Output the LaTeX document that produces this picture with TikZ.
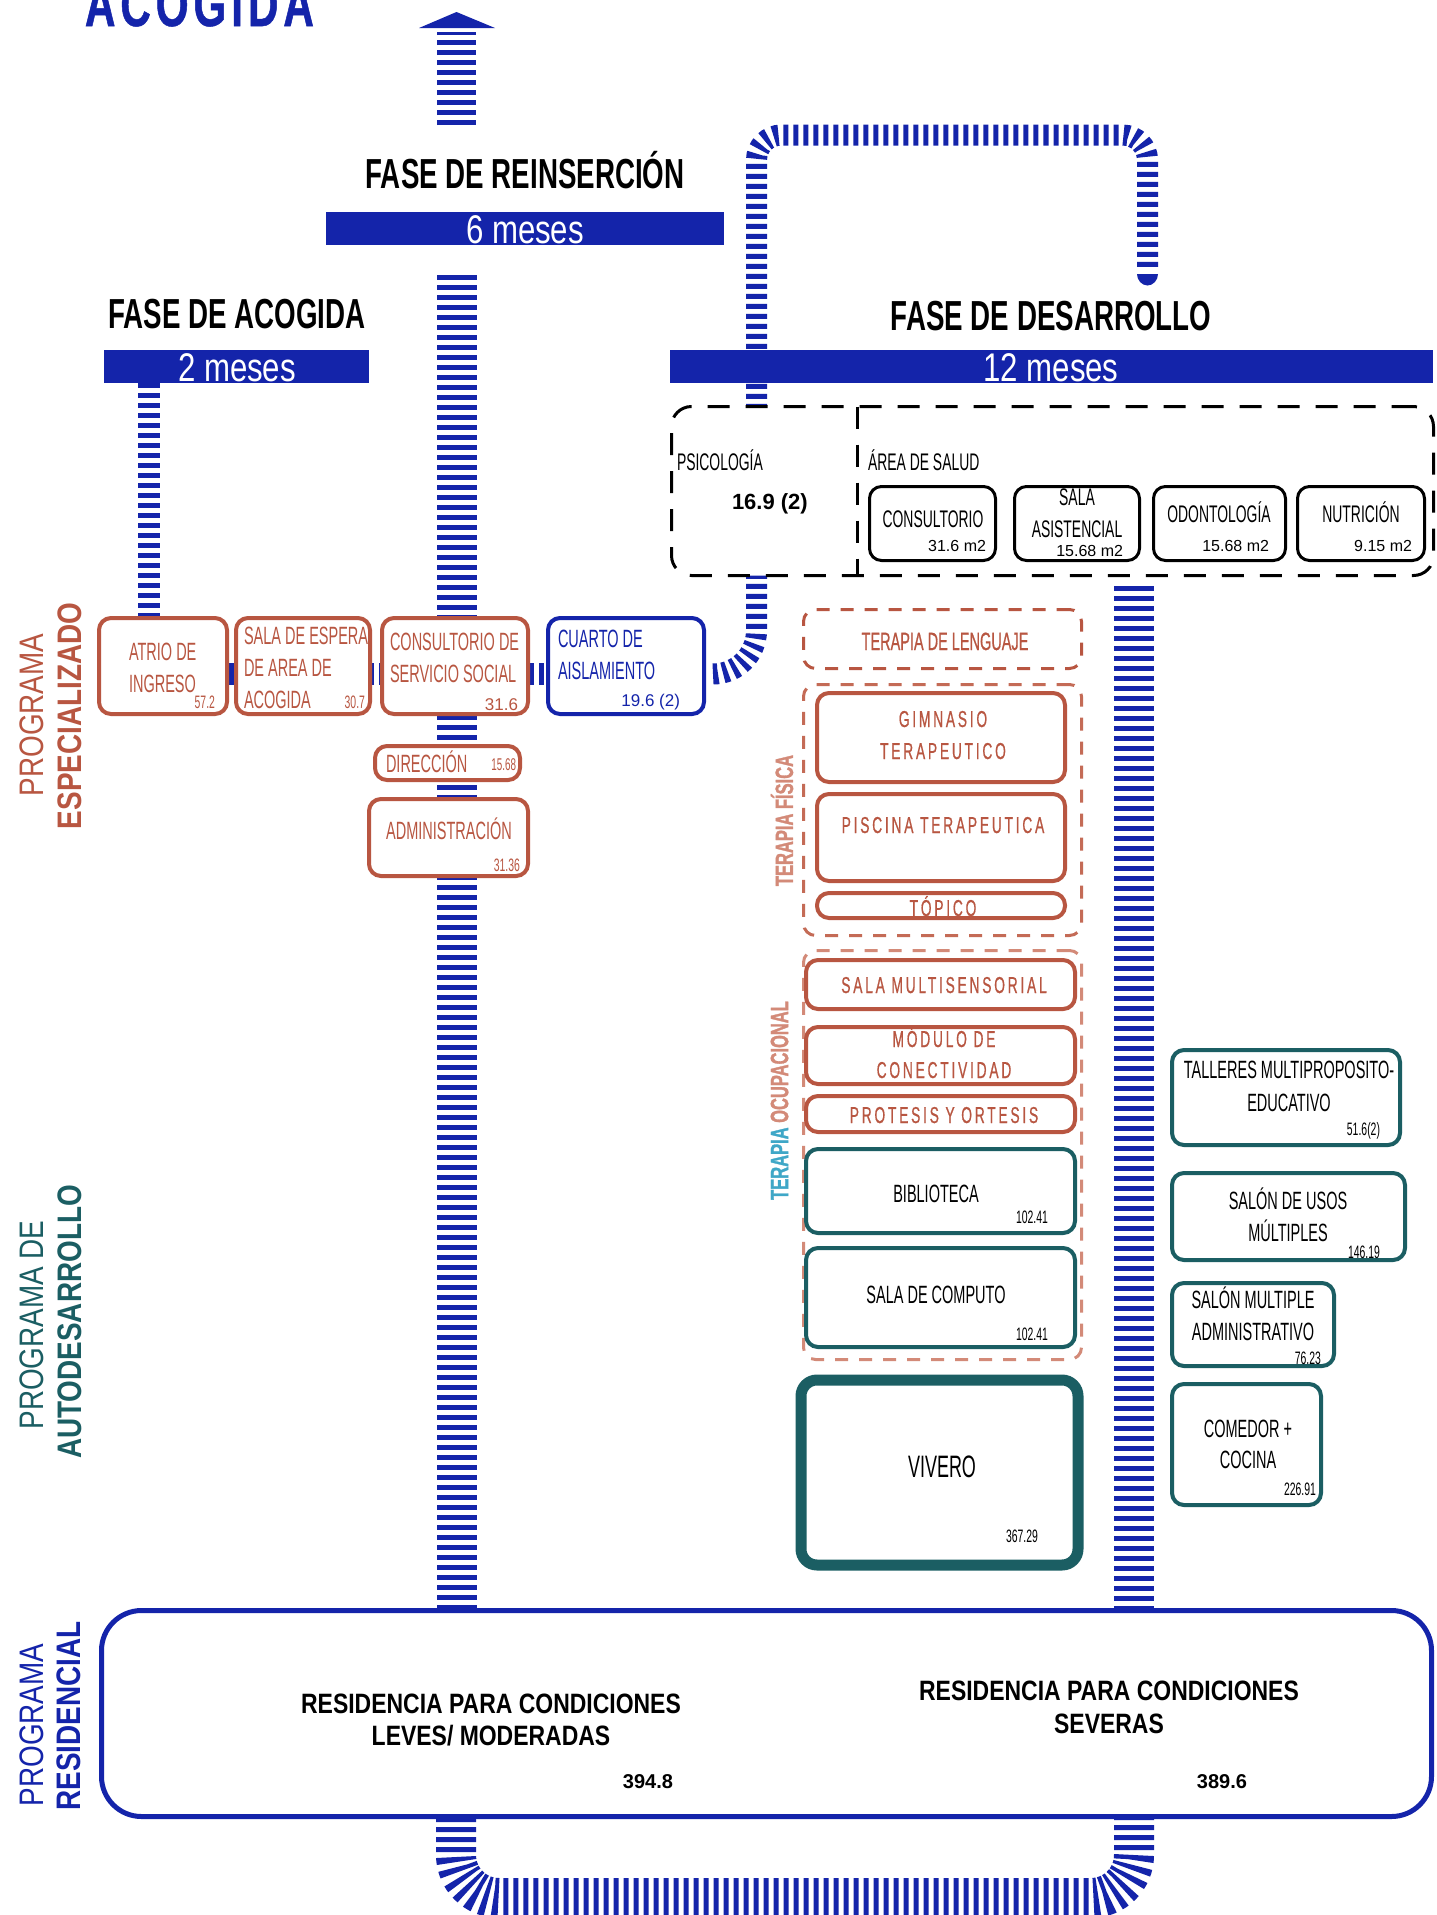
\documentclass[tikz,border=0pt]{standalone}
\usepackage{fontspec}
\setmainfont{Liberation Sans}
\newfontfamily\fCnd{Liberation Sans}[FakeStretch=0.58]
\newfontfamily\fCndM{Liberation Sans}[FakeStretch=0.58,FakeBold=0.6]
\newfontfamily\fHd{Liberation Sans}[FakeStretch=0.66]
\newfontfamily\fTer{Liberation Sans}[FakeStretch=0.66,FakeBold=1.2]
\newfontfamily\fMes{Liberation Sans}[FakeStretch=0.78]
\newfontfamily\fSpc{Liberation Sans}[FakeStretch=0.6,LetterSpace=12,FakeBold=0.6]
\newfontfamily\fSide{Liberation Sans}[FakeStretch=0.82]
\newfontfamily\fTtl{Liberation Sans}[FakeStretch=0.68,LetterSpace=8,FakeBold=0.8]
\newfontfamily\fRes{Liberation Sans}[FakeStretch=0.82]
\newfontfamily\fNum{Liberation Sans}
\newcommand{\fsz}[1]{\fontsize{#1pt}{#1pt}\selectfont}
\definecolor{blueM}{HTML}{1424AA}
\definecolor{terra}{HTML}{B85641}
\definecolor{terraM}{HTML}{C46B56}
\definecolor{terraL}{HTML}{D38A78}
\definecolor{tealD}{HTML}{1B5E63}
\definecolor{lblue}{HTML}{3FA7C7}
\begin{document}
\begin{tikzpicture}[x=1pt,y=-1pt,
  stripe/.style={draw=blueM, dash pattern=on 5pt off 5pt},
  barx/.style={fill=blueM, inner sep=0pt, outer sep=0pt},
  box/.style={draw, fill=white, rounded corners=12pt, inner sep=0pt, outer sep=0pt, line width=4pt},
  tbox/.style={box, draw=terra},
  gbox/.style={box, draw=tealD},
  bbox/.style={box, draw=blueM},
  kbox/.style={box, draw=black, line width=3pt},
  tx/.style={inner sep=0pt, outer sep=0pt},
  rot/.style={tx, rotate=90, anchor=center}]
\useasboundingbox (0,0) rectangle (1437,1915);
\fill[white] (0,0) rectangle (1437,1915);
\clip (0,0) rectangle (1437,1915);

% ---------- coordinates of connectors ----------
\coordinate (arS) at (456.5,125);
\coordinate (arE) at (456.5,32);
\coordinate (reinS) at (456.5,275);
\coordinate (reinE) at (456.5,1611);
\coordinate (acoS) at (149,383);
\coordinate (acoE) at (149,618);
\coordinate (rightS) at (1134,586);
\coordinate (rightE) at (1134,1611);
\coordinate (hS) at (229,674);
\coordinate (hE) at (546,674);
\coordinate (loopS) at (713,674);
\coordinate (loopE) at (1147.5,270);
\coordinate (uS) at (456,1817);
\coordinate (uE) at (1134,1817);
\coordinate (dv) at (857,0);

% ---------- striped connectors ----------
\draw[stripe, line width=39pt] (arS) -- (arE);
\fill[blueM] (419,28) -- (456.5,12) -- (495,28) -- cycle;
\draw[stripe, line width=40pt] (reinS) -- (reinE);
\draw[stripe, line width=22pt] (acoS) -- (acoE);
\draw[stripe, line width=40pt] (rightS) -- (rightE);
\draw[stripe, line width=22pt] (hS) -- (hE);
\draw[stripe, line width=21pt] (loopS) .. controls (737,674) and (756.5,654.5) .. (756.5,630.5)
  -- (756.5,160) .. controls (756.5,146.2) and (767.7,135) .. (781.5,135)
  -- (1122.5,135) .. controls (1136.3,135) and (1147.5,146.2) .. (1147.5,160) -- (loopE);
\fill[blueM] (1137,274) -- (1158,274) .. controls (1158,280) and (1153.3,285.5) .. (1147.5,285.5)
  .. controls (1141.7,285.5) and (1137,280) .. (1137,274) -- cycle;
\draw[stripe, line width=40pt] (uS) -- (456,1855) .. controls (456,1878.7) and (475.3,1898) .. (499,1898)
  -- (1091,1898) .. controls (1114.7,1898) and (1134,1878.7) .. (1134,1855) -- (uE);

% ---------- phase bars ----------
\node[barx, minimum width=398pt, minimum height=33pt] (b6) at (525,228.5) {};
\node[barx, minimum width=265pt, minimum height=33pt] (b2) at (236.5,366.5) {};
\node[barx, minimum width=763pt, minimum height=33pt] (b12) at (1051.5,366.5) {};
\node[tx, anchor=base, white, font=\fMes\fsz{40}] (m6) at (525,243) {6 meses};
\node[tx, anchor=base, white, font=\fMes\fsz{40}] (m2) at (237,381) {2 meses};
\node[tx, anchor=base, white, font=\fMes\fsz{40}] (m12) at (1051,381) {12 meses};
\node[tx, anchor=base, font=\fHd\bfseries\fsz{42}] (h1) at (525,188) {FASE DE REINSERCIÓN};
\node[tx, anchor=base, font=\fHd\bfseries\fsz{42}] (h2) at (237,328) {FASE DE ACOGIDA};
\node[tx, anchor=base, font=\fHd\bfseries\fsz{42}] (h3) at (1051,330) {FASE DE DESARROLLO};
\node[tx, anchor=base west, blueM, font=\fTtl\bfseries\fsz{62}] (ttl) at (85,26) {ACOGIDA};

% ---------- area de salud ----------
\node[draw=black, fill=white, dash pattern=on 22pt off 16pt, line width=3pt, rounded corners=20pt,
  minimum width=762pt, minimum height=169pt, inner sep=0pt, outer sep=0pt] (salud) at (1052.5,491) {};
\draw[black, line width=3pt, dash pattern=on 22pt off 16pt] (salud.north -| dv) -- (salud.south -| dv);
\node[kbox, minimum width=126pt, minimum height=74pt] (cons) at (932.5,523.5) {};
\node[kbox, minimum width=125pt, minimum height=74pt] (asis) at (1077,523.5) {};
\node[kbox, minimum width=132pt, minimum height=74pt] (odon) at (1219.5,523.5) {};
\node[kbox, minimum width=127pt, minimum height=74pt] (nutr) at (1361,523.5) {};
\node[tx, anchor=base west, font=\fCnd\fsz{24}] (psi) at (677,470) {PSICOLOGÍA};
\node[tx, anchor=base west, font=\fNum\bfseries\fsz{22}] (psin) at (732,509) {16.9 (2)};
\node[tx, anchor=base west, font=\fCnd\fsz{24}] (area) at (868,470) {ÁREA DE SALUD};
\node[tx, anchor=base, font=\fCnd\fsz{24}] (c1) at (933,527) {CONSULTORIO};
\node[tx, anchor=base east, font=\fNum\fsz{16}] (c1n) at (986,551) {31.6 m2};
\node[tx, anchor=base, font=\fCnd\fsz{24}] (s1) at (1077,505) {SALA};
\node[tx, anchor=base, font=\fCnd\fsz{24}] (s2) at (1077,537) {ASISTENCIAL};
\node[tx, anchor=base east, font=\fNum\fsz{16}] (s3) at (1123,556) {15.68 m2};
\node[tx, anchor=base, font=\fCnd\fsz{24}] (o1) at (1219,522) {ODONTOLOGÍA};
\node[tx, anchor=base east, font=\fNum\fsz{16}] (o2) at (1269,551) {15.68 m2};
\node[tx, anchor=base, font=\fCnd\fsz{24}] (n1) at (1361,522) {NUTRICIÓN};
\node[tx, anchor=base east, font=\fNum\fsz{16}] (n2) at (1412,551) {9.15 m2};

% ---------- programa especializado ----------
\node[tbox, minimum width=128pt, minimum height=96pt] (atrio) at (163,666) {};
\node[tbox, minimum width=134pt, minimum height=96pt] (espera) at (303,666) {};
\node[tbox, minimum width=146pt, minimum height=96pt] (social) at (455,666) {};
\node[bbox, minimum width=156pt, minimum height=96pt] (cuarto) at (626,666) {};
\node[tbox, minimum width=145pt, minimum height=34pt] (direc) at (447.5,763) {};
\node[tbox, minimum width=159pt, minimum height=77pt] (admin) at (448.5,837.5) {};
\begin{scope}[every node/.style={tx, terra}]
\node[anchor=base west, font=\fCnd\fsz{25}] (a1) at (129,660) {ATRIO DE};
\node[anchor=base west, font=\fCnd\fsz{25}] (a2) at (129,692) {INGRESO};
\node[anchor=base east, font=\fCnd\fsz{18}] (a3) at (215,708) {57.2};
\node[anchor=base west, font=\fCnd\fsz{25}] (e1) at (244,644) {SALA DE ESPERA};
\node[anchor=base west, font=\fCnd\fsz{25}] (e2) at (244,676) {DE AREA DE};
\node[anchor=base west, font=\fCnd\fsz{25}] (e3) at (244,708) {ACOGIDA};
\node[anchor=base east, font=\fCnd\fsz{18}] (e4) at (365,708) {30.7};
\node[anchor=base west, font=\fCnd\fsz{25}] (cs1) at (390,650) {CONSULTORIO DE};
\node[anchor=base west, font=\fCnd\fsz{25}] (cs2) at (390,682) {SERVICIO SOCIAL};
\node[anchor=base east, font=\fNum\fsz{17}] (cs3) at (518,710) {31.6};
\node[anchor=base west, font=\fCnd\fsz{25}] (d1) at (386,772) {DIRECCIÓN};
\node[anchor=base east, font=\fCnd\fsz{17}] (d2) at (516,770) {15.68};
\node[anchor=base, font=\fCnd\fsz{25}] (ad1) at (449,839) {ADMINISTRACIÓN};
\node[anchor=base east, font=\fCnd\fsz{18}] (ad2) at (520,871) {31.36};
\end{scope}
\node[tx, blueM, anchor=base west, font=\fCnd\fsz{25}] (cu1) at (558,647) {CUARTO DE};
\node[tx, blueM, anchor=base west, font=\fCnd\fsz{25}] (cu2) at (558,679) {AISLAMIENTO};
\node[tx, blueM, anchor=base east, font=\fNum\fsz{17}] (cu3) at (680,706) {19.6 (2)};

% ---------- terapias ----------
\node[draw=terra, fill=white, dash pattern=on 13pt off 11pt, line width=3pt, rounded corners=12pt,
  minimum width=278pt, minimum height=59pt, inner sep=0pt, outer sep=0pt] (leng) at (942.5,639) {};
\node[draw=terraM, fill=white, dash pattern=on 13pt off 11pt, line width=3pt, rounded corners=12pt,
  minimum width=278pt, minimum height=251pt, inner sep=0pt, outer sep=0pt] (fisica) at (942.5,810) {};
\node[draw=terraL, fill=white, dash pattern=on 13pt off 11pt, line width=3pt, rounded corners=12pt,
  minimum width=278pt, minimum height=409pt, inner sep=0pt, outer sep=0pt] (ocup) at (942.5,1155) {};
\node[tbox, minimum width=248pt, minimum height=89pt] (gim) at (941,737.5) {};
\node[tbox, minimum width=248pt, minimum height=87pt] (pisc) at (941,837.5) {};
\node[tbox, minimum width=248pt, minimum height=25pt] (topi) at (941,905.5) {};
\node[tbox, minimum width=269pt, minimum height=49pt] (multi) at (940.5,984.5) {};
\node[tbox, minimum width=269pt, minimum height=57pt] (modu) at (940.5,1055.5) {};
\node[tbox, minimum width=269pt, minimum height=36pt] (prot) at (940.5,1114) {};
\node[gbox, minimum width=269pt, minimum height=84pt] (bibl) at (940.5,1191) {};
\node[gbox, minimum width=269pt, minimum height=99pt] (comp) at (940.5,1297.5) {};
\node[gbox, line width=11pt, rounded corners=16pt, minimum width=277pt, minimum height=185pt] (viv) at (939.5,1472.5) {};
\node[gbox, minimum width=228pt, minimum height=95pt] (tall) at (1286,1097.5) {};
\node[gbox, minimum width=233pt, minimum height=87pt] (usos) at (1288.5,1216.5) {};
\node[gbox, minimum width=162pt, minimum height=83pt] (sadm) at (1253,1324.5) {};
\node[gbox, minimum width=149pt, minimum height=121pt] (come) at (1246.5,1444.5) {};

\begin{scope}[every node/.style={tx, terra, anchor=base}]
\node[font=\fCndM\fsz{25}] (l1) at (945,650) {TERAPIA DE LENGUAJE};
\node[font=\fSpc\fsz{23}] (g1) at (943,727) {GIMNASIO};
\node[font=\fSpc\fsz{23}] (g2) at (943,759) {TERAPEUTICO};
\node[font=\fSpc\fsz{23}] (p1) at (943,833) {PISCINA TERAPEUTICA};
\node[font=\fSpc\fsz{23}] (tp) at (943,916) {TÓPICO};
\node[font=\fSpc\fsz{23}] (ms) at (944,993) {SALA MULTISENSORIAL};
\node[font=\fSpc\fsz{23}] (md1) at (944,1047) {MÓDULO DE};
\node[font=\fSpc\fsz{23}] (md2) at (944,1078) {CONECTIVIDAD};
\node[font=\fSpc\fsz{23}] (pr) at (944,1123) {PROTESIS Y ORTESIS};
\end{scope}
\begin{scope}[every node/.style={tx, black, anchor=base}]
\node[font=\fCnd\fsz{25}] (bi1) at (936,1202) {BIBLIOTECA};
\node[anchor=base east, font=\fCnd\fsz{18}] (bi2) at (1048,1223) {102.41};
\node[font=\fCnd\fsz{25}] (co1) at (936,1303) {SALA DE COMPUTO};
\node[anchor=base east, font=\fCnd\fsz{18}] (co2) at (1048,1340) {102.41};
\node[font=\fCnd\fsz{31}] (vi1) at (942,1477) {VIVERO};
\node[anchor=base east, font=\fCnd\fsz{18}] (vi2) at (1038,1542) {367.29};
\node[font=\fCnd\fsz{25}] (ta1) at (1289,1078) {TALLERES MULTIPROPOSITO-};
\node[font=\fCnd\fsz{25}] (ta2) at (1289,1111) {EDUCATIVO};
\node[anchor=base east, font=\fCnd\fsz{18}] (ta3) at (1380,1135) {51.6(2)};
\node[font=\fCnd\fsz{25}] (us1) at (1288,1209) {SALÓN DE USOS};
\node[font=\fCnd\fsz{25}] (us2) at (1288,1241) {MÚLTIPLES};
\node[anchor=base east, font=\fCnd\fsz{18}] (us3) at (1380,1258) {146.19};
\node[font=\fCnd\fsz{25}] (sm1) at (1253,1308) {SALÓN MULTIPLE};
\node[font=\fCnd\fsz{25}] (sm2) at (1253,1340) {ADMINISTRATIVO};
\node[anchor=base east, font=\fCnd\fsz{18}] (sm3) at (1321,1364) {76.23};
\node[font=\fCnd\fsz{25}] (cm1) at (1248,1437) {COMEDOR +};
\node[font=\fCnd\fsz{25}] (cm2) at (1248,1468) {COCINA};
\node[anchor=base east, font=\fCnd\fsz{18}] (cm3) at (1316,1495) {226.91};
\end{scope}
\node[rot, terraL, font=\fTer\bfseries\fsz{25}] (tfis) at (782,820.5) {TERAPIA FÍSICA};
\node[rot, font=\fTer\bfseries\fsz{25}] (tocu) at (779.5,1100.5) {\textcolor{lblue}{TERAPIA} \textcolor{terraL}{OCUPACIONAL}};

% ---------- residencia ----------
\node[draw=blueM, fill=white, line width=5pt, rounded corners=40pt, minimum width=1330pt,
  minimum height=206pt, inner sep=0pt, outer sep=0pt] (resid) at (766.5,1713.5) {};
\begin{scope}[every node/.style={tx, black, anchor=base}]
\node[font=\fRes\bfseries\fsz{28}] (r1) at (491,1713) {RESIDENCIA PARA CONDICIONES};
\node[font=\fRes\bfseries\fsz{28}] (r2) at (491,1745) {LEVES/ MODERADAS};
\node[font=\fNum\bfseries\fsz{20}] (r3) at (648,1788) {394.8};
\node[font=\fRes\bfseries\fsz{28}] (r4) at (1109,1700) {RESIDENCIA PARA CONDICIONES};
\node[font=\fRes\bfseries\fsz{28}] (r5) at (1109,1733) {SEVERAS};
\node[font=\fNum\bfseries\fsz{20}] (r6) at (1222,1788) {389.6};
\end{scope}

% ---------- side labels ----------
\node[rot, terra, font=\fSide\fsz{34}] (sp1) at (32,715) {PROGRAMA};
\node[rot, terra, font=\fSide\bfseries\fsz{34}] (sp2) at (70,716) {ESPECIALIZADO};
\node[rot, tealD, font=\fSide\fsz{34}] (sa1) at (32,1325) {PROGRAMA DE};
\node[rot, tealD, font=\fSide\bfseries\fsz{34}] (sa2) at (70,1322) {AUTODESARROLLO};
\node[rot, blueM, font=\fSide\fsz{34}] (sr1) at (32,1725) {PROGRAMA};
\node[rot, blueM, font=\fSide\bfseries\fsz{34}] (sr2) at (69,1716) {RESIDENCIAL};
\end{tikzpicture}
\end{document}
